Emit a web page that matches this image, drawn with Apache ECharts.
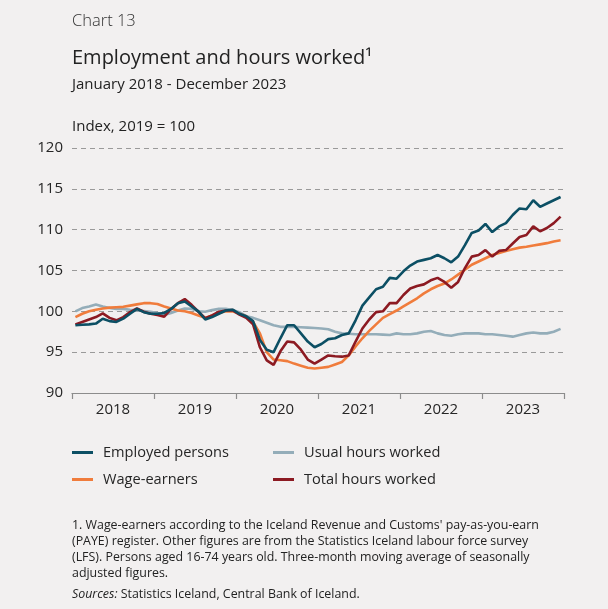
<!DOCTYPE html>
<html>
<head>
<meta charset="utf-8">
<script src="https://cdn.jsdelivr.net/npm/echarts@6/dist/echarts.min.js"></script>
<style>
html,body{margin:0;padding:0;background:#f2f0f0;}
#c{width:608px;height:609px;}
</style>
</head>
<body>
<div id="c"></div>
<script>
// ---- data ----
const years = ['2018','2019','2020','2021','2022','2023'];
const months = [];
years.forEach(y => { for (let m = 1; m <= 12; m++) months.push(y + '-' + (m < 10 ? '0' + m : m)); });
const yTicks = [90, 95, 100, 105, 110, 115, 120];

const employedPersons = [
  98.3, 98.35, 98.4, 98.5, 99.1, 98.8, 98.7, 99.1, 99.7, 100.3, 99.9, 99.7,
  99.7, 99.8, 100.3, 101.0, 101.2, 100.6, 100.0, 99.0, 99.3, 99.7, 100.1, 100.2,
  99.7, 99.4, 98.8, 96.5, 95.3, 95.0, 96.7, 98.3, 98.3, 97.3, 96.3, 95.6,
  96.0, 96.6, 96.7, 97.1, 97.3, 98.9, 100.7, 101.7, 102.7, 103.0, 104.1, 104.0,
  104.9, 105.6, 106.1, 106.3, 106.5, 106.9, 106.5, 106.0, 106.7, 108.1, 109.6, 109.9,
  110.7, 109.7, 110.4, 110.8, 111.8, 112.6, 112.5, 113.6, 112.8, 113.2, 113.6, 114.0
];
const wageEarners = [
  99.3, 99.7, 100.0, 100.2, 100.35, 100.45, 100.5, 100.55, 100.7, 100.85, 101.0, 101.0,
  100.9, 100.6, 100.35, 100.1, 100.0, 99.8, 99.5, 99.2, 99.5, 99.8, 100.0, 100.0,
  99.7, 99.4, 98.7, 97.3, 95.0, 94.1, 94.0, 93.9, 93.6, 93.35, 93.1, 93.0,
  93.1, 93.2, 93.5, 93.8, 94.6, 95.7, 96.7, 97.6, 98.4, 99.2, 99.65, 100.1,
  100.6, 101.1, 101.6, 102.2, 102.7, 103.1, 103.4, 103.9, 104.5, 105.1, 105.7, 106.1,
  106.5, 106.9, 107.15, 107.4, 107.6, 107.8, 107.9, 108.05, 108.2, 108.35, 108.55, 108.7
];
const usualHoursWorked = [
  100.0, 100.4, 100.6, 100.85, 100.6, 100.4, 100.3, 100.3, 100.2, 100.15, 100.05, 99.95,
  99.8, 99.55, 99.8, 100.1, 100.35, 100.3, 100.0, 99.95, 100.15, 100.3, 100.3, 100.15,
  99.9, 99.4, 99.2, 98.9, 98.6, 98.3, 98.1, 98.1, 98.1, 98.05, 98.0, 97.95,
  97.9, 97.8, 97.5, 97.3, 97.25, 97.2, 97.2, 97.2, 97.2, 97.15, 97.1, 97.3,
  97.2, 97.2, 97.3, 97.5, 97.6, 97.3, 97.1, 97.0, 97.2, 97.3, 97.3, 97.3,
  97.2, 97.2, 97.1, 97.0, 96.9, 97.1, 97.3, 97.4, 97.3, 97.3, 97.5, 97.85
];
const totalHoursWorked = [
  98.4, 98.7, 99.0, 99.3, 99.75, 99.2, 98.9, 99.3, 99.9, 100.35, 99.95, 99.7,
  99.55, 99.35, 100.3, 101.0, 101.5, 100.8, 99.95, 99.15, 99.5, 99.95, 100.1, 100.15,
  99.6, 99.2, 98.4, 95.6, 94.0, 93.45, 95.1, 96.3, 96.2, 95.3, 94.1, 93.6,
  94.1, 94.6, 94.5, 94.45, 94.6, 96.3, 97.9, 99.0, 99.9, 100.0, 101.0, 101.0,
  102.0, 102.8, 103.1, 103.3, 103.8, 104.1, 103.6, 102.9, 103.6, 105.3, 106.7, 106.9,
  107.5, 106.7, 107.4, 107.5, 108.3, 109.1, 109.35, 110.4, 109.8, 110.2, 110.8, 111.6
];

const seriesNames = ['Employed persons', 'Wage-earners', 'Usual hours worked', 'Total hours worked'];
const colors = { 'Employed persons': '#0c4f64', 'Wage-earners': '#f07c3c', 'Usual hours worked': '#94adb9', 'Total hours worked': '#8c1a22' };

const FONT = '"Open Sans", "Noto Sans", sans-serif';
const TXT = '#262626';

const chart = echarts.init(document.getElementById('c'), null, { renderer: 'canvas' });

function line(name, data, z) {
  return {
    name, type: 'line', data, xAxisIndex: 0, yAxisIndex: 0,
    symbol: 'none', smooth: false, z,
    lineStyle: { width: 2.6, color: colors[name] },
    itemStyle: { color: colors[name] }
  };
}

const option = {
  backgroundColor: '#f2f0f0',
  animation: false,
  textStyle: { fontFamily: FONT },
  grid: { left: 72, right: 44, top: 148, bottom: 216, containLabel: false },
  xAxis: [
    {
      type: 'category', data: months, boundaryGap: true, position: 'bottom',
      axisLine: { show: true, lineStyle: { color: '#8c8c8c', width: 1.2 } },
      axisTick: { show: true, interval: 11, length: 6, lineStyle: { color: '#8c8c8c', width: 1.2 } },
      axisLabel: { show: false },
      splitLine: { show: false }
    },
    {
      type: 'category', data: years, boundaryGap: true, position: 'bottom',
      axisLine: { show: false }, axisTick: { show: false },
      axisLabel: { show: true, margin: 9, fontSize: 15, color: TXT, fontFamily: FONT },
      splitLine: { show: false }
    }
  ],
  yAxis: {
    type: 'value', min: yTicks[0], max: yTicks[yTicks.length - 1], interval: 5,
    axisLine: { show: false }, axisTick: { show: false },
    axisLabel: { margin: 9, fontSize: 15, color: TXT, fontFamily: FONT },
    splitLine: { show: true, lineStyle: { color: '#9a9a9a', type: [5, 4], width: 1 } }
  },
  legend: [
    {
      data: [seriesNames[0], seriesNames[1]],
      orient: 'vertical', left: 72, top: 445, padding: 0, itemGap: 12,
      icon: 'rect', itemWidth: 21, itemHeight: 3,
      textStyle: { fontSize: 14.6, color: TXT, fontFamily: FONT, padding: [0, 0, 0, 5] },
      selectedMode: false
    },
    {
      data: [seriesNames[2], seriesNames[3]],
      orient: 'vertical', left: 273, top: 445, padding: 0, itemGap: 12,
      icon: 'rect', itemWidth: 21, itemHeight: 3,
      textStyle: { fontSize: 14.6, color: TXT, fontFamily: FONT, padding: [0, 0, 0, 5] },
      selectedMode: false
    }
  ],
  series: [
    line('Usual hours worked', usualHoursWorked, 2),
    line('Wage-earners', wageEarners, 3),
    line('Total hours worked', totalHoursWorked, 4),
    line('Employed persons', employedPersons, 5)
  ],
  graphic: [
    { type: 'text', x: 72, y: 21, style: { text: 'Chart 13', font: '300 16.5px ' + FONT, fill: '#333', verticalAlign: 'middle' } },
    { type: 'text', x: 72, y: 58, style: { text: 'Employment and hours worked\u00b9', font: '20px ' + FONT, fill: '#222', verticalAlign: 'middle' } },
    { type: 'text', x: 72, y: 85, style: { text: 'January 2018 - December 2023', font: '15px ' + FONT, fill: '#222', verticalAlign: 'middle' } },
    { type: 'text', x: 72, y: 127, style: { text: 'Index, 2019 = 100', font: '15px ' + FONT, fill: '#222', verticalAlign: 'middle' } },
    { type: 'text', x: 72, y: 517, style: {
        text: "1. Wage-earners according to the Iceland Revenue and Customs' pay-as-you-earn\n(PAYE) register. Other figures are from the Statistics Iceland labour force survey\n(LFS). Persons aged 16-74 years old. Three-month moving average of seasonally\nadjusted figures.",
        font: '12.4px ' + FONT, fill: '#222', lineHeight: 16 } },
    { type: 'text', x: 72, y: 588, style: {
        text: '{i|Sources:} Statistics Iceland, Central Bank of Iceland.',
        font: '12.4px ' + FONT, fill: '#222',
        rich: { i: { fontStyle: 'italic', fontSize: 12.4, fontFamily: FONT, fill: '#222' } } } }
  ]
};
chart.setOption(option);
</script>
</body>
</html>
